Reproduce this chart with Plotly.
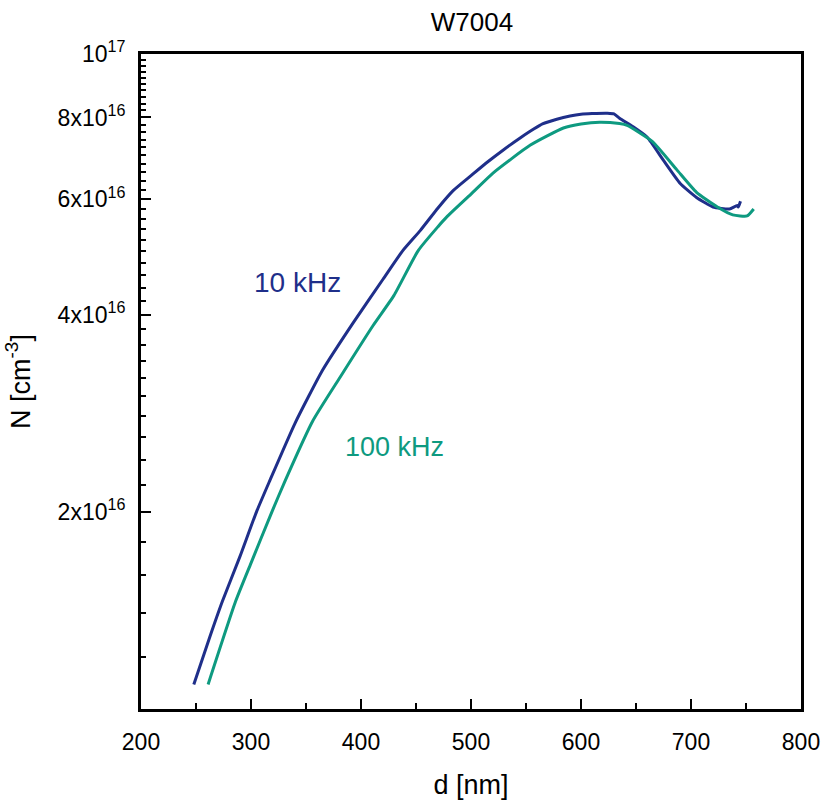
import numpy as np
import plotly.graph_objects as go

# 10 kHz curve (d in nm, N in 1e16 cm^-3)
d_10k = [248, 262, 274, 290, 305, 317, 340, 365, 393, 420, 438, 454, 470, 484,
         500, 515, 530, 545, 557, 565, 578, 590, 600, 610, 624, 630, 635, 647, 660,
         675, 690, 705, 720, 735, 742, 743, 745]
n_10k = [1.09, 1.28, 1.46, 1.71, 2.0, 2.23, 2.73, 3.29, 3.89, 4.53, 5.01, 5.38,
         5.82, 6.19, 6.52, 6.84, 7.15, 7.45, 7.68, 7.82, 7.95, 8.04, 8.09, 8.11, 8.12,
         8.10, 7.98, 7.75, 7.47, 6.88, 6.35, 6.04, 5.84, 5.80, 5.87, 5.84, 5.96]

# 100 kHz curve
d_100k = [261, 286, 300, 319, 331, 356, 381, 411, 430, 452, 470, 478, 500, 520, 554,
          584, 600, 617, 635, 642, 665, 687, 705, 724, 738, 751, 757]
n_100k = [1.09, 1.46, 1.67, 2.0, 2.23, 2.75, 3.21, 3.85, 4.28, 5.01, 5.45, 5.64, 6.11,
          6.58, 7.26, 7.71, 7.82, 7.87, 7.83, 7.78, 7.35, 6.66, 6.15, 5.84, 5.68, 5.66, 5.80]

y_tickvals = [2e16, 4e16, 6e16, 8e16, 1e17]
y_ticktext = ["2x10<sup>16</sup>", "4x10<sup>16</sup>", "6x10<sup>16</sup>",
              "8x10<sup>16</sup>", "10<sup>17</sup>"]
x_tickvals = [200, 300, 400, 500, 600, 700, 800]

col_10k = "#1f2f8a"
col_100k = "#0e9a80"
font_fam = "Liberation Sans"

fig = go.Figure()
fig.add_trace(go.Scatter(x=d_10k, y=np.array(n_10k) * 1e16, mode="lines",
                         line=dict(color=col_10k, width=3, shape="spline", smoothing=0.5),
                         name="10 kHz"))
fig.add_trace(go.Scatter(x=d_100k, y=np.array(n_100k) * 1e16, mode="lines",
                         line=dict(color=col_100k, width=3, shape="spline", smoothing=0.5),
                         name="100 kHz"))

fig.add_annotation(x=342, y=np.log10(4.48e16), text="10 kHz", showarrow=False,
                   font=dict(size=28, color=col_10k, family=font_fam))
fig.add_annotation(x=430, y=np.log10(2.51e16), text="100 kHz", showarrow=False,
                   font=dict(size=27, color=col_100k, family=font_fam))

minor_y = [v * 1e15 for v in range(12, 100, 2) if v not in (20, 40, 60, 80)]

fig.update_layout(
    width=822, height=805,
    margin=dict(l=141, r=21, t=54, b=96),
    plot_bgcolor="white", paper_bgcolor="white",
    showlegend=False,
    title=dict(text="W7004", x=472 / 822, xanchor="center", y=1 - 22 / 805,
               yanchor="middle", font=dict(size=26, color="black", family=font_fam)),
    font=dict(family=font_fam, color="black"),
)
fig.update_xaxes(
    range=[200, 800], tickvals=x_tickvals, ticks="inside", ticklen=10, tickwidth=2,
    tickcolor="black", showline=True, linecolor="black", linewidth=3, mirror=True,
    showgrid=False, zeroline=False, tickfont=dict(size=23), ticklabelstandoff=10,
    automargin=False,
    minor=dict(tickvals=[250, 350, 450, 550, 650, 750], ticks="inside", ticklen=6,
               tickwidth=2, tickcolor="black", showgrid=False),
    title=dict(text="d [nm]", font=dict(size=27), standoff=22),
)
fig.update_yaxes(
    type="log", range=[16, 17], tickvals=y_tickvals, ticktext=y_ticktext,
    ticks="inside", ticklen=10, tickwidth=2, tickcolor="black", showline=True,
    linecolor="black", linewidth=3, mirror=True, showgrid=False, zeroline=False,
    tickfont=dict(size=23), ticklabelstandoff=8, automargin=False,
    minor=dict(tickvals=minor_y, ticks="inside", ticklen=5, tickwidth=2,
               tickcolor="black", showgrid=False),
    title=dict(text="N [cm<sup>-3</sup>]", font=dict(size=27), standoff=20),
)

# drop the default body margin so the figure fills the window exactly
fig.write_html("out.html", config={"displayModeBar": False},
               post_script="document.body.style.margin='0';")
